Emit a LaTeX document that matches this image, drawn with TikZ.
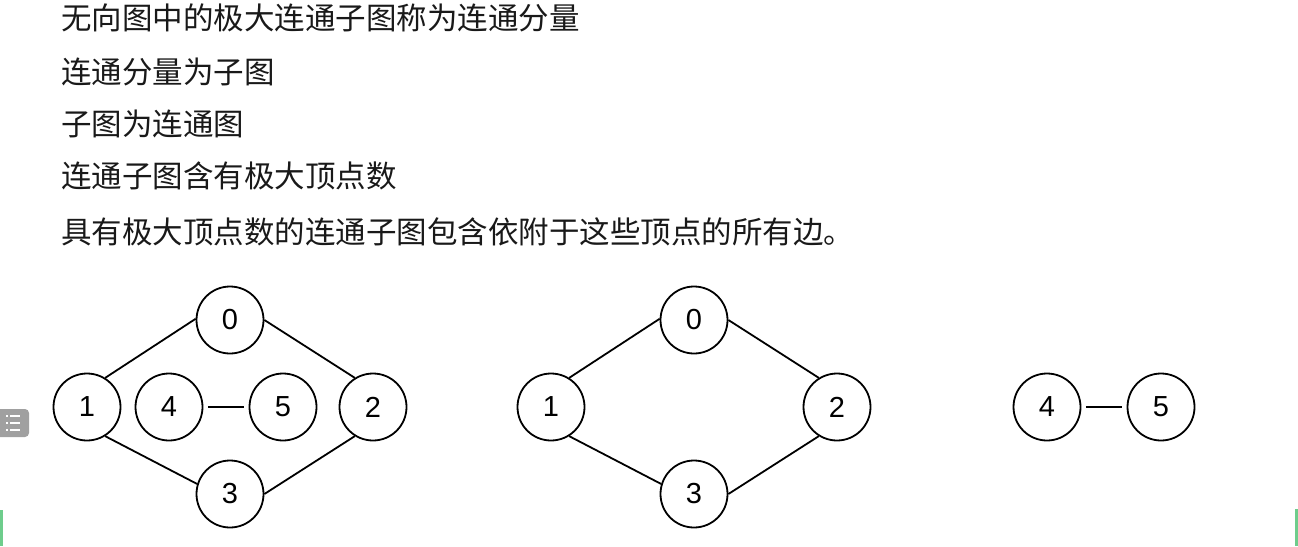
\documentclass[tikz,border=0pt]{standalone}
\usepackage{fontspec}
\setmainfont{Liberation Sans}
\newfontfamily\cjk{Noto Sans CJK SC}[Scale=1]
\definecolor{iconbg}{RGB}{160,160,160}
\definecolor{bargreen}{RGB}{110,205,140}
\definecolor{txt}{RGB}{25,25,25}
\begin{document}
\begin{tikzpicture}[x=1pt,y=-1pt,
  vtx/.style={circle,draw=black,line width=1.8pt,minimum size=67pt,inner sep=0pt,font=\fontsize{29}{30}\selectfont},
  edge/.style={draw=black,line width=1.8pt},
  gapedge/.style={edge,shorten <=4.5pt,shorten >=4.5pt},
  line/.style={anchor=west,inner sep=0pt,text=txt,font=\cjk\fontsize{30.5}{32}\selectfont}]
\useasboundingbox (0,0) rectangle (1298,546);
% text lines
\node[line] (t1) at (61,18) {无向图中的极大连通子图称为连通分量};
\node[line] (t2) at (61,72) {连通分量为子图};
\node[line] (t3) at (61,124) {子图为连通图};
\node[line] (t4) at (61,176) {连通子图含有极大顶点数};
\node[line] (t5) at (61,232) {具有极大顶点数的连通子图包含依附于这些顶点的所有边。};
% left graph
\node[vtx] (a0) at (230,320) {0};
\node[vtx] (a1) at (87,407) {1};
\node[vtx] (a4) at (169,407) {4};
\node[vtx] (a5) at (283,407) {5};
\node[vtx] (a2) at (373,407) {2};
\node[vtx] (a3) at (230,494) {3};
\draw[edge] (a1.58) -- (a0.178);
\draw[edge] (a0.east) -- (a2.122);
\draw[edge] (a1.-58) -- (a3.163);
\draw[edge] (a3.east) -- (a2.-122);
\draw[gapedge] (a4) -- (a5);
% middle graph
\node[vtx] (b0) at (694,320) {0};
\node[vtx] (b1) at (551,407) {1};
\node[vtx] (b2) at (837,407) {2};
\node[vtx] (b3) at (694,494) {3};
\draw[edge] (b1.58) -- (b0.178);
\draw[edge] (b0.east) -- (b2.122);
\draw[edge] (b1.-58) -- (b3.163);
\draw[edge] (b3.east) -- (b2.-122);
% right graph
\node[vtx] (c4) at (1047,407) {4};
\node[vtx] (c5) at (1161,407) {5};
\draw[gapedge] (c4) -- (c5);
% side icon
\fill[iconbg,rounded corners=4pt] (-4,409) rectangle (29,437);
\foreach \yy in {416,423,430}{
  \fill[white] (6,\yy-1) rectangle (8,\yy+1);
  \fill[white] (10,\yy-1) rectangle (20,\yy+1);
}
% green bars
\fill[bargreen] (0,510) rectangle (3,546);
\fill[bargreen] (1295,509) rectangle (1298,546);
\end{tikzpicture}
\end{document}
